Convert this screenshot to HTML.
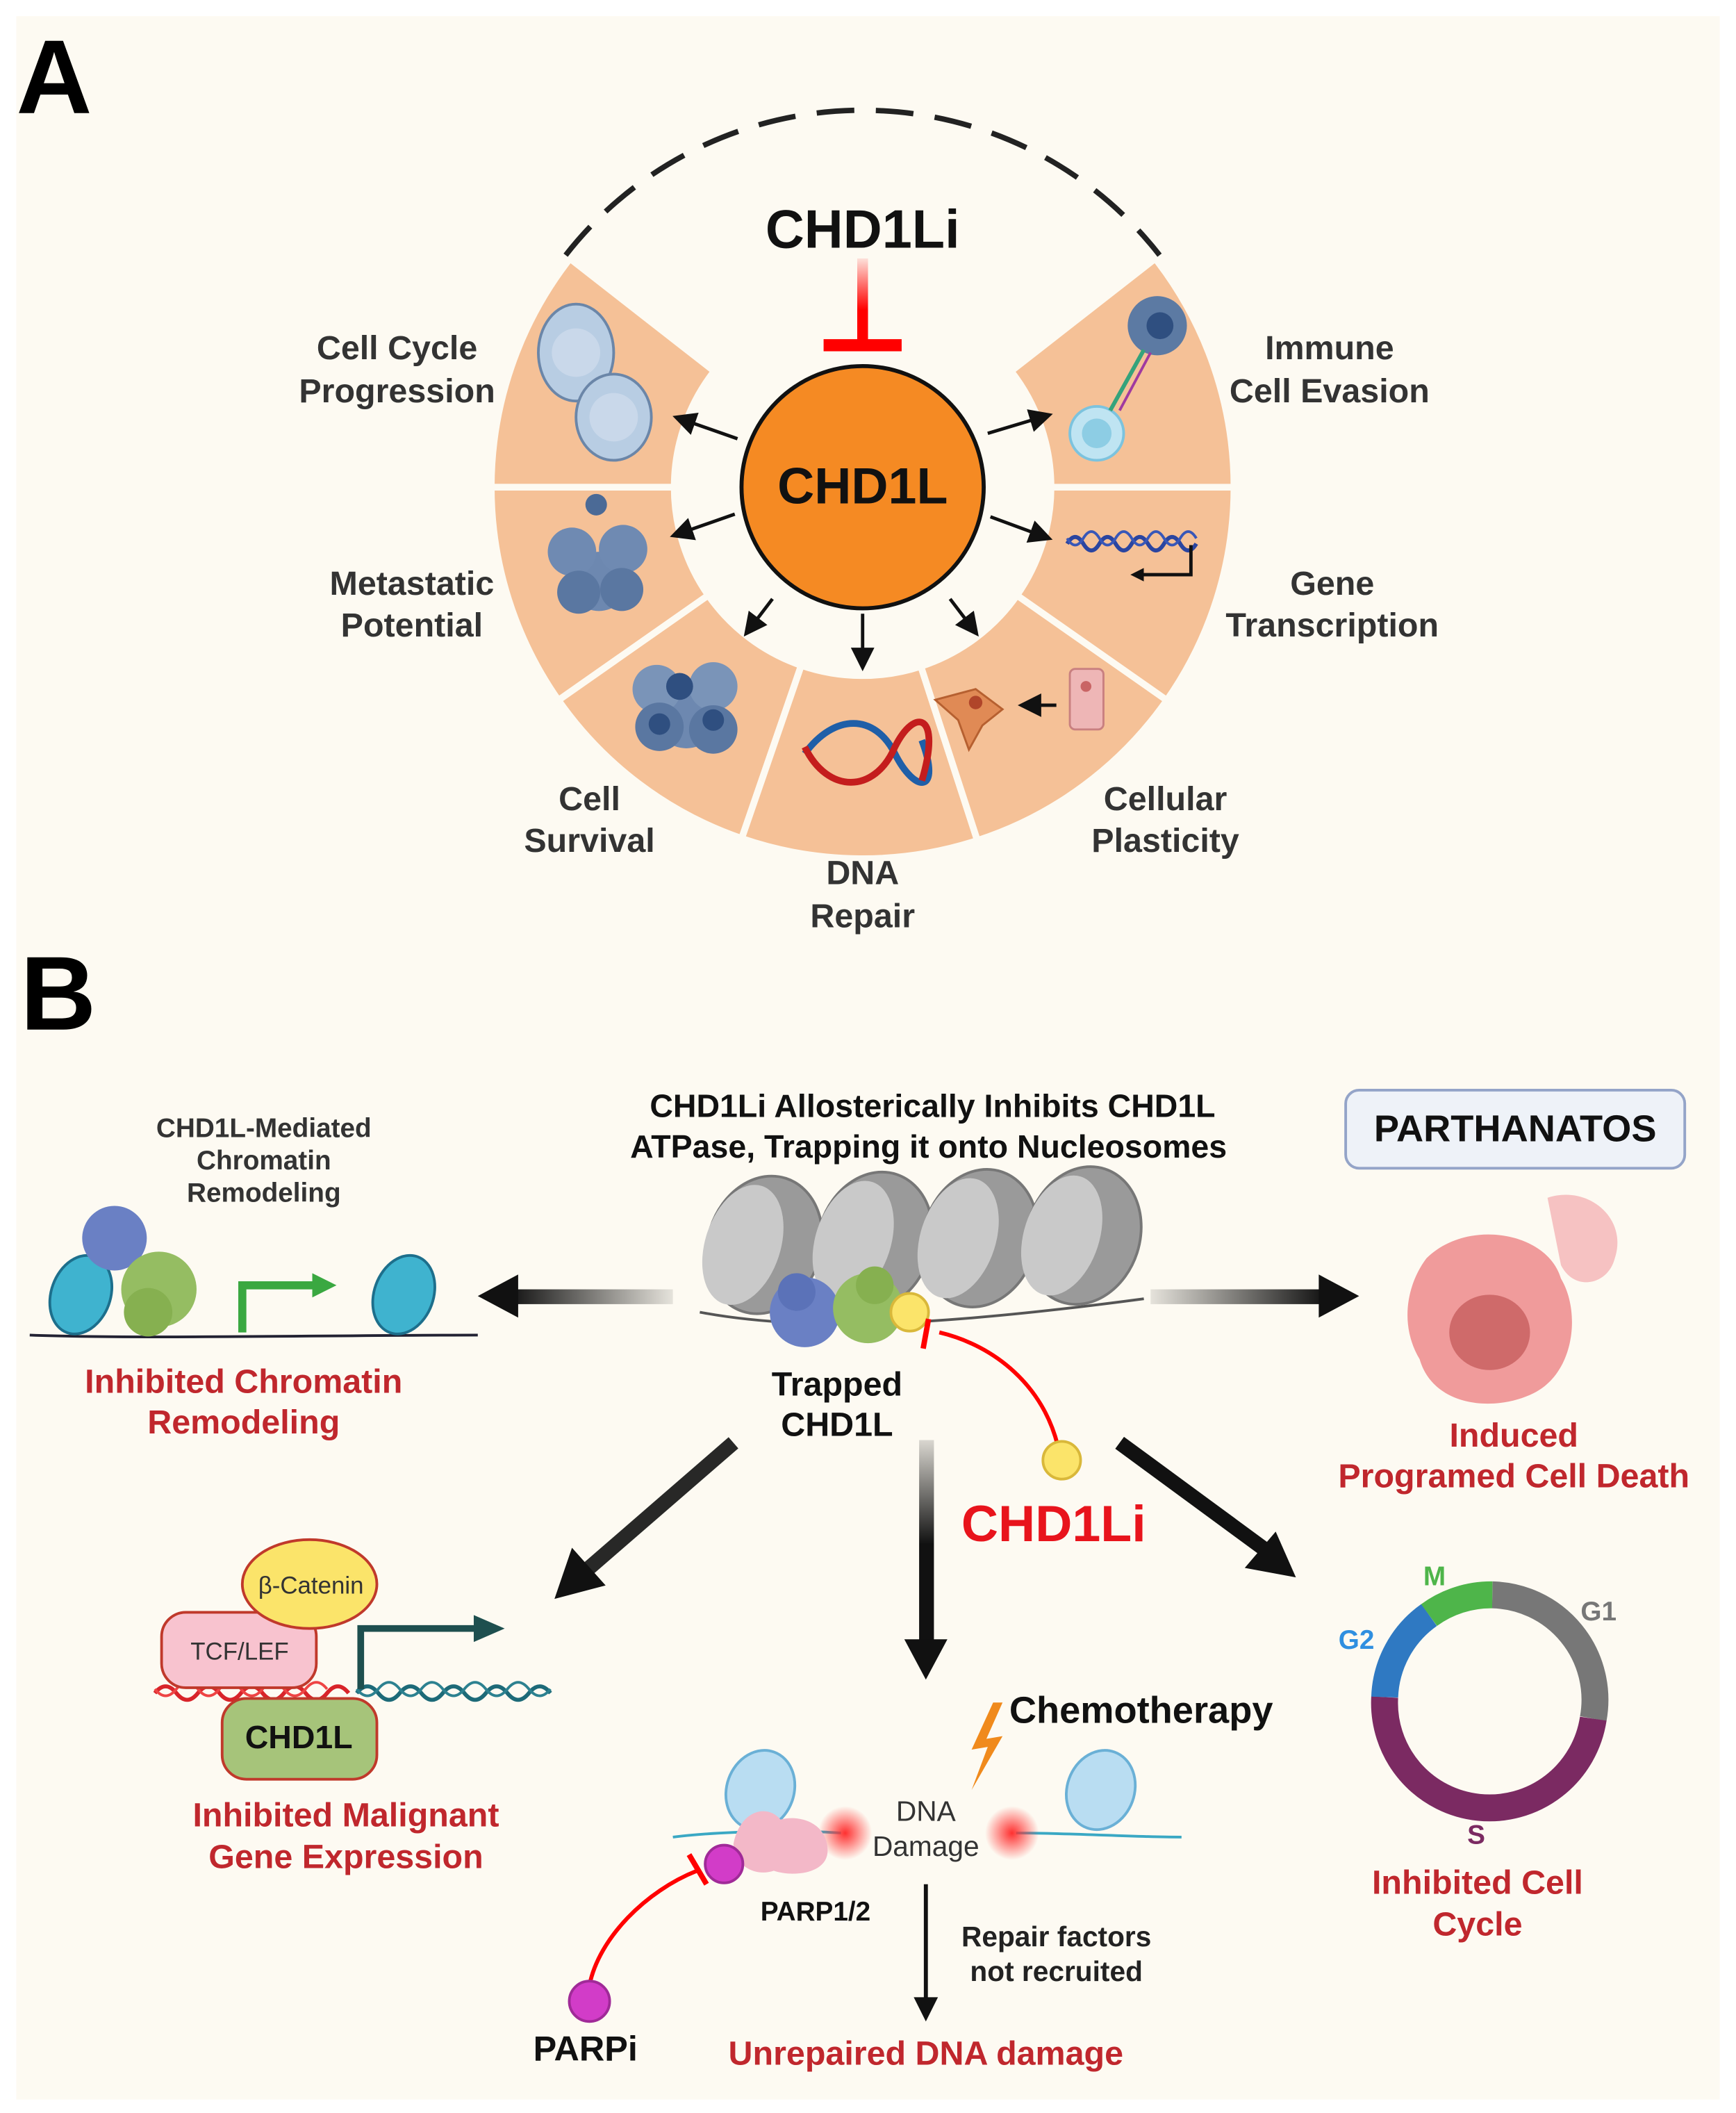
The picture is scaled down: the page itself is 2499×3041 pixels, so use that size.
<!DOCTYPE html>
<html><head><meta charset="utf-8"><style>
html,body{margin:0;padding:0;background:#fff}
svg{display:block}
text{font-family:"Liberation Sans",sans-serif;font-weight:bold}
</style></head><body>
<svg width="2499" height="3041" viewBox="0 0 1290 1570" xmlns="http://www.w3.org/2000/svg">
<defs>
<linearGradient id="fadeL" x1="0" x2="1"><stop offset="0" stop-color="#111"/><stop offset="1" stop-color="#111" stop-opacity="0.1"/></linearGradient>
<linearGradient id="fadeR" x1="1" x2="0"><stop offset="0" stop-color="#111"/><stop offset="1" stop-color="#111" stop-opacity="0.1"/></linearGradient>
<linearGradient id="fadeD" x1="0" y1="0" x2="0" y2="1"><stop offset="0" stop-color="#111" stop-opacity="0.15"/><stop offset="0.5" stop-color="#111"/></linearGradient>
<linearGradient id="redV" x1="0" y1="0" x2="0" y2="1"><stop offset="0" stop-color="#f00" stop-opacity="0.1"/><stop offset="0.6" stop-color="#f00"/></linearGradient>
<radialGradient id="glow"><stop offset="0" stop-color="#ff3030"/><stop offset="1" stop-color="#ff3030" stop-opacity="0"/></radialGradient>
<marker id="ah" viewBox="0 0 10 10" refX="5" refY="5" markerWidth="4" markerHeight="4" orient="auto"><path d="M0,0L10,5L0,10z" fill="#111"/></marker>
<marker id="ahs" viewBox="0 0 10 10" refX="5" refY="5" markerWidth="7" markerHeight="7" orient="auto"><path d="M0,0L10,5L0,10z" fill="#111"/></marker>
</defs>
<rect x="0" y="0" width="1290" height="1570" fill="#fff"/>
<rect x="12" y="12" width="1266" height="1548" fill="#fdfaf2"/>

<text x="12" y="84" font-size="78" fill="#000">A</text>
<text x="15" y="765" font-size="78" fill="#000">B</text>

<!-- Ring segments -->
<g fill="#f5c197" stroke="#fdfaf2" stroke-width="5">
<path id="seg"/>
</g>
<g fill="#f5c197" stroke="#fdfaf2" stroke-width="5" id="ring"></g>
<script>
(function(){
 var cx=641,cy=362,R=276,r=140;
 var segs=[[180,218],[145,180],[109,145],[72,109],[35,72],[0,35],[-38,0]];
 var g=document.getElementById('ring');var s='';
 function p(a,rr){var t=a*Math.PI/180;return (cx+rr*Math.cos(t)).toFixed(1)+','+(cy+rr*Math.sin(t)).toFixed(1);}
 segs.forEach(function(q){
  s+='<path d="M'+p(q[0],r)+' L'+p(q[0],R)+' A'+R+','+R+' 0 0,1 '+p(q[1],R)+' L'+p(q[1],r)+' A'+r+','+r+' 0 0,0 '+p(q[0],r)+'Z"/>';
 });
 g.innerHTML=s;
})();
</script>
<!-- static fallback ring -->
<g fill="#f5c197" stroke="#fdfaf2" stroke-width="5">
<path d="M501,362 L365,362 A276,276 0 0,1 423.5,192.1 L530.7,275.8 A140,140 0 0,0 501,362Z"/>
<path d="M526.3,442.3 L414.9,520.3 A276,276 0 0,1 365,362 L501,362 A140,140 0 0,0 526.3,442.3Z"/>
<path d="M595.4,494.4 L551.1,623.0 A276,276 0 0,1 414.9,520.3 L526.3,442.3 A140,140 0 0,0 595.4,494.4Z"/>
<path d="M684.3,495.1 L726.3,624.5 A276,276 0 0,1 551.1,623.0 L595.4,494.4 A140,140 0 0,0 684.3,495.1Z"/>
<path d="M755.7,442.3 L867.1,520.3 A276,276 0 0,1 726.3,624.5 L684.3,495.1 A140,140 0 0,0 755.7,442.3Z"/>
<path d="M781,362 L917,362 A276,276 0 0,1 867.1,520.3 L755.7,442.3 A140,140 0 0,0 781,362Z"/>
<path d="M751.3,275.8 L858.5,192.1 A276,276 0 0,1 917,362 L781,362 A140,140 0 0,0 751.3,275.8Z"/>
</g>
<!-- dashed arc -->
<path d="M420.3,189.6 A280,280 0 0,1 861.7,189.6" fill="none" stroke="#222" stroke-width="4" stroke-dasharray="28,16"/>

<!-- CHD1Li top -->
<text x="641" y="184" font-size="40" text-anchor="middle" fill="#111">CHD1Li</text>
<rect x="637" y="192" width="8" height="64" fill="url(#redV)"/>
<rect x="612" y="252" width="58" height="9" fill="#f00"/>

<circle cx="641" cy="362" r="90" fill="#f58a23" stroke="#111" stroke-width="3"/>
<text x="641" y="374" font-size="38" text-anchor="middle" fill="#111">CHD1L</text>

<!-- small arrows -->
<g stroke="#111" stroke-width="2.5" marker-end="url(#ahs)">
<line x1="548" y1="326" x2="508" y2="312"/>
<line x1="546" y1="382" x2="506" y2="396"/>
<line x1="574" y1="445" x2="558" y2="466"/>
<line x1="641" y1="456" x2="641" y2="490"/>
<line x1="706" y1="445" x2="722" y2="466"/>
<line x1="736" y1="384" x2="774" y2="398"/>
<line x1="734" y1="322" x2="774" y2="310"/>
</g>

<!-- icons part A -->
<g>
<ellipse cx="428" cy="262" rx="28" ry="36" fill="#b8cde3" stroke="#6b86a8" stroke-width="2"/>
<ellipse cx="456" cy="310" rx="28" ry="32" fill="#b8cde3" stroke="#6b86a8" stroke-width="2"/>
<circle cx="428" cy="262" r="18" fill="#c9d8ea"/><circle cx="456" cy="310" r="18" fill="#c9d8ea"/>
<circle cx="445" cy="432" r="22" fill="#6d88b0"/><circle cx="425" cy="410" r="18" fill="#6f8ab2"/><circle cx="463" cy="408" r="18" fill="#6f8ab2"/><circle cx="430" cy="440" r="16" fill="#5a77a1"/><circle cx="462" cy="438" r="16" fill="#5a77a1"/>
<circle cx="443" cy="375" r="8" fill="#4b6a96"/>
<circle cx="510" cy="532" r="24" fill="#6d88b0"/><circle cx="488" cy="512" r="18" fill="#7a94b8"/><circle cx="530" cy="510" r="18" fill="#7a94b8"/><circle cx="490" cy="540" r="18" fill="#5a77a1"/><circle cx="530" cy="542" r="18" fill="#5a77a1"/><circle cx="505" cy="510" r="10" fill="#2f4f80"/><circle cx="530" cy="535" r="8" fill="#2f4f80"/><circle cx="490" cy="538" r="8" fill="#2f4f80"/>
<circle cx="860" cy="242" r="22" fill="#5c7aa3"/><circle cx="862" cy="242" r="10" fill="#2f4f80"/>
<circle cx="815" cy="322" r="20" fill="#bfe4f2" stroke="#7cc3de" stroke-width="2"/><circle cx="815" cy="322" r="11" fill="#8dcde4"/>
<line x1="825" y1="305" x2="850" y2="260" stroke="#35a37b" stroke-width="3"/><line x1="832" y1="305" x2="855" y2="262" stroke="#a03aa0" stroke-width="2"/>
<path d="M793,404 q6,-10 12,0 t12,0 t12,0 t12,0 t12,0 t12,0 t12,0 t12,0" fill="none" stroke="#2b45a0" stroke-width="3"/>
<path d="M793,400 q6,10 12,0 t12,0 t12,0 t12,0 t12,0 t12,0 t12,0 t12,0" fill="none" stroke="#3857b8" stroke-width="2"/>
<path d="M885,405 v22 h-40" fill="none" stroke="#111" stroke-width="2.5" marker-end="url(#ah)"/>
<path d="M598,560 C620,530 650,530 665,560 C680,590 700,590 685,550" fill="none" stroke="#1f5fa8" stroke-width="5"/>
<path d="M598,555 C615,590 650,590 665,555 C680,525 700,530 685,580" fill="none" stroke="#c41d1d" stroke-width="5"/>
<path d="M695,520 l30,-8 l20,15 l-15,12 l-10,18 l-8,-22 z" fill="#e08a55" stroke="#b66030" stroke-width="1.5"/>
<circle cx="725" cy="522" r="5" fill="#b0452a"/>
<line x1="785" y1="524" x2="765" y2="524" stroke="#111" stroke-width="2.5" marker-end="url(#ahs)"/>
<rect x="795" y="497" width="25" height="45" rx="4" fill="#eeb6b6" stroke="#c98080" stroke-width="1.5"/>
<circle cx="807" cy="510" r="4" fill="#c96565"/>
</g>

<!-- part A labels -->
<g font-size="25" fill="#333" text-anchor="middle">
<text x="295" y="267">Cell Cycle</text><text x="295" y="299">Progression</text>
<text x="988" y="267">Immune</text><text x="988" y="299">Cell Evasion</text>
<text x="306" y="442">Metastatic</text><text x="306" y="473">Potential</text>
<text x="990" y="442">Gene</text><text x="990" y="473">Transcription</text>
<text x="438" y="602">Cell</text><text x="438" y="633">Survival</text>
<text x="866" y="602">Cellular</text><text x="866" y="633">Plasticity</text>
<text x="641" y="657">DNA</text><text x="641" y="689">Repair</text>
</g>

<!-- PART B -->
<g font-size="24" fill="#111" text-anchor="middle">
<text x="693" y="830">CHD1Li Allosterically Inhibits CHD1L</text>
<text x="690" y="860">ATPase, Trapping it onto Nucleosomes</text>
</g>
<rect x="1000" y="810" width="252" height="58" rx="10" fill="#eef2f8" stroke="#94a4c8" stroke-width="2"/>
<text x="1126" y="848" font-size="28" text-anchor="middle" fill="#111">PARTHANATOS</text>
<g font-size="20" fill="#333" text-anchor="middle">
<text x="196" y="845">CHD1L-Mediated</text><text x="196" y="869">Chromatin</text><text x="196" y="893">Remodeling</text>
</g>

<!-- nucleosomes -->
<g>
<path d="M520,975 C600,990 700,985 850,965" fill="none" stroke="#555" stroke-width="2"/>
<g fill="#9a9a9a" stroke="#777" stroke-width="2">
<ellipse cx="568" cy="925" rx="42" ry="52" transform="rotate(18 568 925)"/>
<ellipse cx="650" cy="922" rx="42" ry="52" transform="rotate(18 650 922)"/>
<ellipse cx="728" cy="920" rx="42" ry="52" transform="rotate(18 728 920)"/>
<ellipse cx="805" cy="918" rx="42" ry="52" transform="rotate(18 805 918)"/>
</g>
<g fill="#c9c9c9">
<ellipse cx="552" cy="925" rx="28" ry="46" transform="rotate(18 552 925)"/>
<ellipse cx="634" cy="922" rx="28" ry="46" transform="rotate(18 634 922)"/>
<ellipse cx="712" cy="920" rx="28" ry="46" transform="rotate(18 712 920)"/>
<ellipse cx="789" cy="918" rx="28" ry="46" transform="rotate(18 789 918)"/>
</g>
<circle cx="598" cy="975" r="26" fill="#6a80c4"/><circle cx="592" cy="960" r="14" fill="#5b72b8"/>
<circle cx="645" cy="972" r="26" fill="#95bd62"/><circle cx="650" cy="955" r="14" fill="#86b050"/>
<circle cx="676" cy="975" r="14" fill="#fbe46a" stroke="#d9b83a" stroke-width="2"/>
</g>
<!-- left chromatin -->
<g>
<path d="M22,992 C100,995 250,992 355,992" fill="none" stroke="#223" stroke-width="2"/>
<ellipse cx="60" cy="962" rx="22" ry="30" transform="rotate(20 60 962)" fill="#3fb3cf" stroke="#1d6f8c" stroke-width="2"/>
<ellipse cx="300" cy="962" rx="22" ry="30" transform="rotate(20 300 962)" fill="#3fb3cf" stroke="#1d6f8c" stroke-width="2"/>
<circle cx="85" cy="920" r="24" fill="#6a80c4"/><circle cx="118" cy="958" r="28" fill="#95bd62"/><circle cx="110" cy="975" r="18" fill="#86b050"/>
<path d="M180,990 V955 H235" fill="none" stroke="#3aa841" stroke-width="6"/>
<path d="M232,946 L250,955 L232,964 Z" fill="#3aa841"/>
</g>
<!-- big arrows -->
<rect x="378" y="958" width="122" height="11" fill="url(#fadeL)"/>
<path d="M355,963 L385,947 L385,979 Z" fill="#111"/>
<rect x="855" y="958" width="130" height="11" fill="url(#fadeR)"/>
<path d="M1010,963 L980,947 L980,979 Z" fill="#111"/>

<g font-size="25" fill="#c0272d" text-anchor="middle">
<text x="181" y="1035">Inhibited Chromatin</text><text x="181" y="1065">Remodeling</text>
<text x="1125" y="1075">Induced</text><text x="1125" y="1105">Programed Cell Death</text>
<text x="257" y="1357">Inhibited Malignant</text><text x="257" y="1388">Gene Expression</text>
<text x="1098" y="1407">Inhibited Cell</text><text x="1098" y="1438">Cycle</text>
<text x="688" y="1534">Unrepaired DNA damage</text>
</g>
<g font-size="25" fill="#111" text-anchor="middle">
<text x="622" y="1037">Trapped</text><text x="622" y="1067">CHD1L</text>
</g>
<!-- CHD1Li inhibitor -->
<path d="M786,1074 C775,1030 740,1000 698,990" fill="none" stroke="#f00" stroke-width="3"/>
<line x1="690" y1="980" x2="686" y2="1002" stroke="#f00" stroke-width="4"/>
<circle cx="789" cy="1085" r="14" fill="#fbe46a" stroke="#d9b83a" stroke-width="2"/>
<text x="783" y="1145" font-size="38" fill="#e8141c" text-anchor="middle">CHD1Li</text>

<!-- parthanatos cell -->
<path d="M1060,935 C1090,905 1150,915 1160,950 C1175,975 1170,1020 1140,1035 C1110,1050 1065,1045 1055,1010 C1040,985 1045,955 1060,935Z" fill="#f09b9b"/>
<path d="M1150,890 C1180,880 1210,905 1200,935 C1195,955 1170,960 1160,940 Z" fill="#f6c2c2"/>
<ellipse cx="1107" cy="990" rx="30" ry="28" fill="#cf6a6a"/>

<!-- diagonal arrows -->
<line x1="545" y1="1072" x2="432" y2="1170" stroke="#111" stroke-width="11" stroke-opacity="0.9"/>
<path d="M412,1188 L425,1150 L450,1178 Z" fill="#111"/>
<rect x="683" y="1070" width="11" height="155" fill="url(#fadeD)"/>
<path d="M688,1248 L672,1218 L704,1218 Z" fill="#111"/>
<line x1="832" y1="1072" x2="945" y2="1155" stroke="#111" stroke-width="11"/>
<path d="M963,1172 L925,1165 L948,1138 Z" fill="#111"/>

<!-- beta catenin complex -->
<path d="M115,1258 q8,-10 16,0 t16,0 t16,0 t16,0 t16,0 t16,0 t16,0 t16,0 t16,0" fill="none" stroke="#d8242a" stroke-width="3"/>
<path d="M115,1255 q8,10 16,0 t16,0 t16,0 t16,0 t16,0 t16,0 t16,0 t16,0" fill="none" stroke="#e44" stroke-width="2"/>
<path d="M265,1258 q8,-10 16,0 t16,0 t16,0 t16,0 t16,0 t16,0 t16,0 t16,0 t16,0" fill="none" stroke="#1d6a78" stroke-width="3"/>
<path d="M265,1255 q8,10 16,0 t16,0 t16,0 t16,0 t16,0 t16,0 t16,0 t16,0 t16,0" fill="none" stroke="#2c8190" stroke-width="2"/>
<rect x="120" y="1198" width="115" height="56" rx="18" fill="#f8c3cf" stroke="#c0392b" stroke-width="2"/>
<text x="178" y="1233" font-size="18" font-weight="normal" fill="#333" text-anchor="middle" style="font-weight:normal">TCF/LEF</text>
<ellipse cx="230" cy="1177" rx="50" ry="33" fill="#fbe46a" stroke="#c0392b" stroke-width="2"/>
<text x="231" y="1184" font-size="18" fill="#333" text-anchor="middle" style="font-weight:normal">β-Catenin</text>
<rect x="165" y="1262" width="115" height="60" rx="18" fill="#a6c47a" stroke="#c0392b" stroke-width="2"/>
<text x="222" y="1299" font-size="24" fill="#111" text-anchor="middle">CHD1L</text>
<path d="M268,1255 V1210 H355" fill="none" stroke="#1e4f4f" stroke-width="5"/>
<path d="M352,1200 L375,1210 L352,1220 Z" fill="#1e4f4f"/>

<!-- cell cycle ring -->
<g fill="none" stroke-width="20">
<path d="M1109,1185 A78,78 0 0,1 1184,1277" stroke="#777"/>
<path d="M1184,1277 A78,78 0 0,1 1029,1261" stroke="#7b2a62"/>
<path d="M1029,1261 A78,78 0 0,1 1062,1200" stroke="#2f79c2"/>
<path d="M1062,1200 A78,78 0 0,1 1109,1185" stroke="#4eb54a"/>
</g>
<text x="1066" y="1178" font-size="20" fill="#4eb54a" text-anchor="middle">M</text>
<text x="1188" y="1204" font-size="20" fill="#777" text-anchor="middle">G1</text>
<text x="1008" y="1225" font-size="20" fill="#2f8fe0" text-anchor="middle">G2</text>
<text x="1097" y="1370" font-size="20" fill="#7b2a62" text-anchor="middle">S</text>

<!-- chemotherapy / DNA damage -->
<path d="M738,1265 L722,1300 L734,1298 L722,1330 L745,1290 L733,1292 L745,1265 Z" fill="#f08a1c"/>
<text x="848" y="1280" font-size="28" fill="#111" text-anchor="middle">Chemotherapy</text>
<path d="M500,1365 C540,1360 600,1360 625,1362" fill="none" stroke="#3aa8c4" stroke-width="2"/>
<path d="M755,1362 C800,1362 840,1365 878,1365" fill="none" stroke="#3aa8c4" stroke-width="2"/>
<ellipse cx="565" cy="1330" rx="25" ry="30" transform="rotate(20 565 1330)" fill="#b9ddf2" stroke="#6ab0d6" stroke-width="2"/>
<ellipse cx="818" cy="1330" rx="25" ry="30" transform="rotate(20 818 1330)" fill="#b9ddf2" stroke="#6ab0d6" stroke-width="2"/>
<circle cx="628" cy="1362" r="20" fill="url(#glow)"/>
<circle cx="752" cy="1362" r="20" fill="url(#glow)"/>
<path d="M545,1370 C550,1345 570,1340 580,1352 C595,1348 615,1355 615,1375 C615,1392 590,1395 575,1390 C560,1395 545,1385 545,1370Z" fill="#f3b8c8"/>
<g font-size="21" fill="#333" text-anchor="middle" style="font-weight:normal">
<text x="688" y="1353" style="font-weight:normal">DNA</text><text x="688" y="1379" style="font-weight:normal">Damage</text>
</g>
<text x="606" y="1427" font-size="20" fill="#111" text-anchor="middle">PARP1/2</text>
<circle cx="538" cy="1385" r="14" fill="#d23cc8" stroke="#a02a98" stroke-width="2"/>
<path d="M438,1475 C445,1440 480,1405 518,1390" fill="none" stroke="#f00" stroke-width="3"/>
<line x1="512" y1="1378" x2="525" y2="1400" stroke="#f00" stroke-width="4"/>
<circle cx="438" cy="1487" r="15" fill="#d23cc8" stroke="#a02a98" stroke-width="2"/>
<text x="435" y="1531" font-size="26" fill="#111" text-anchor="middle">PARPi</text>
<line x1="688" y1="1400" x2="688" y2="1490" stroke="#111" stroke-width="3"/>
<path d="M688,1502 L679,1484 L697,1484 Z" fill="#111"/>
<g font-size="21" fill="#222" text-anchor="middle">
<text x="785" y="1446">Repair factors</text><text x="785" y="1472">not recruited</text>
</g>
</svg>
</body></html>
